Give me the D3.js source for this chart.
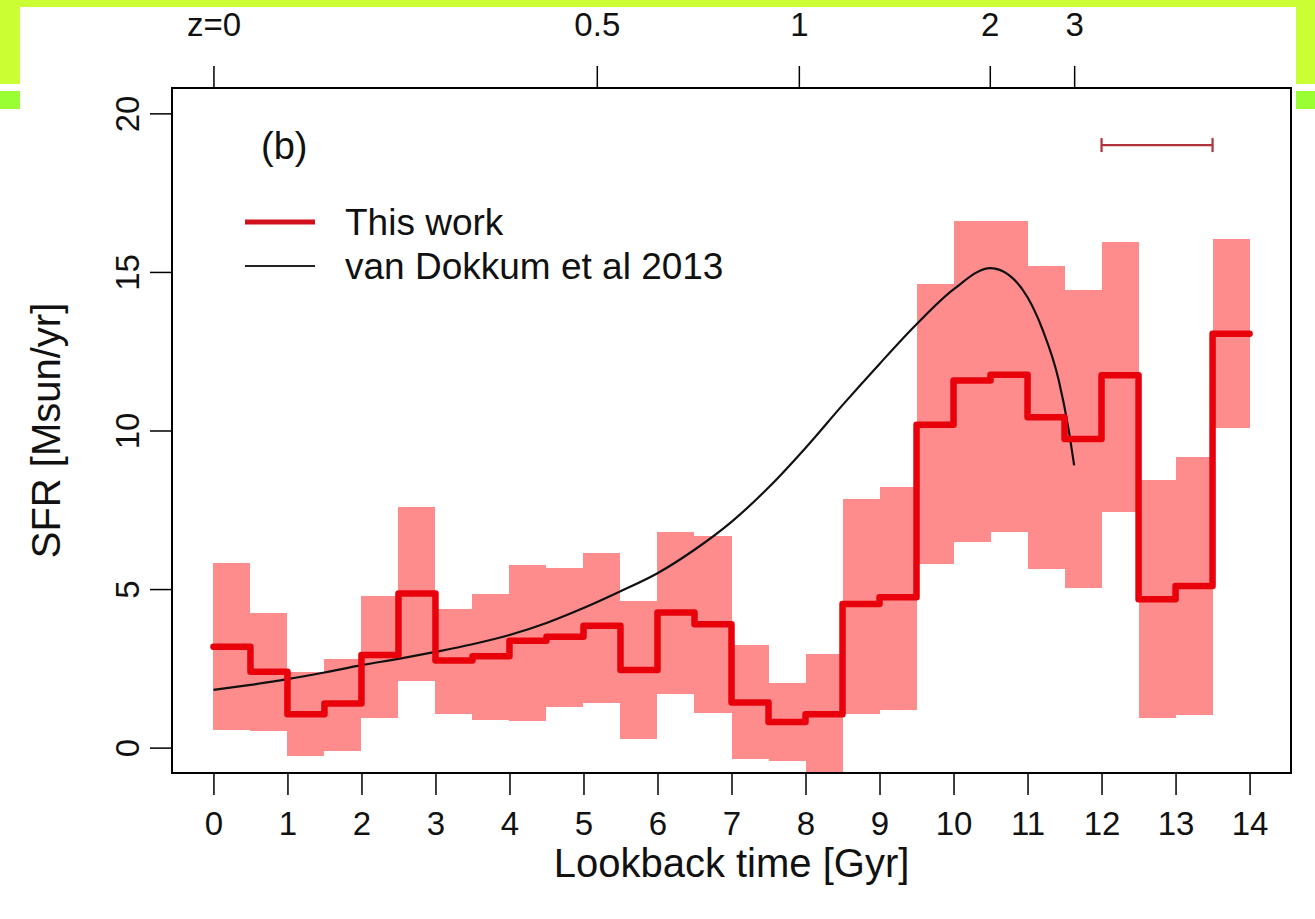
<!DOCTYPE html>
<html>
<head>
<meta charset="utf-8">
<script src="https://cdn.jsdelivr.net/npm/d3@7"></script>
<style>
  html, body { margin: 0; padding: 0; background: #fff; }
  svg { display: block; font-family: "Liberation Sans", Arial, Helvetica, sans-serif; }
</style>
</head>
<body>
<svg id="chart" width="1315" height="919"></svg>
<script>
// ---- data ----
const binEdges = [0,0.5,1,1.5,2,2.5,3,3.5,4,4.5,5,5.5,6,6.5,7,7.5,8,8.5,9,9.5,10,10.5,11,11.5,12,12.5,13,13.5,14];
const sfrThisWork = [3.18,2.39,1.05,1.39,2.92,4.86,2.75,2.88,3.37,3.5,3.84,2.45,4.26,3.89,1.42,0.81,1.05,4.53,4.74,10.18,11.58,11.76,10.42,9.73,11.74,4.68,5.1,13.05];
const sfrHigh = [5.81,4.26,2.37,2.79,4.79,7.58,4.37,4.86,5.76,5.66,6.14,4.63,6.79,6.68,3.23,2.05,2.95,7.84,8.23,14.63,16.6,16.6,15.18,14.42,15.95,8.44,9.16,16.05];
const sfrLow = [0.55,0.52,-0.27,-0.11,0.93,2.1,1.05,0.86,0.84,1.28,1.42,0.28,1.68,1.1,-0.37,-0.42,-1.3,1.05,1.18,5.78,6.47,6.79,5.63,5.02,7.42,0.95,1.02,10.08];

const vdLookback = [0,0.5,1,1.5,2,2.5,3,3.5,4,4.5,5,5.5,6,6.5,7,7.5,8,8.5,9,9.5,10,10.5,10.75,11,11.2,11.42,11.55,11.63];
const vdSfr = [1.82,1.98,2.16,2.37,2.6,2.8,3.02,3.26,3.55,3.93,4.4,4.93,5.5,6.24,7.12,8.2,9.45,10.8,12.1,13.35,14.45,15.12,14.9,14.2,13.2,11.6,10.1,8.9];

const xTicks = [0,1,2,3,4,5,6,7,8,9,10,11,12,13,14];
const yTicks = [0,5,10,15,20];
const zTickLookback = [0,5.18,7.91,10.49,11.63];
const zTickLabels = ["z=0","0.5","1","2","3"];

const errBarRange = [12, 13.5];
const errBarLevel = 19;

const legendLabels = ["This work", "van Dokkum et al 2013"];

// ---- layout ----
const svg = d3.select("#chart");
const W = 1315, H = 919;
const plot = {left: 172, right: 1291, top: 88, bottom: 773};

svg.append("rect").attr("width", W).attr("height", H).attr("fill", "#fff");

// green frame decorations
const green = "#ccff33", green2 = "#99ff33";
svg.append("rect").attr("x",0).attr("y",0).attr("width",W).attr("height",7).attr("fill",green);
svg.append("rect").attr("x",0).attr("y",0).attr("width",20).attr("height",84).attr("fill",green);
svg.append("rect").attr("x",1296).attr("y",0).attr("width",19).attr("height",84).attr("fill",green);
svg.append("rect").attr("x",0).attr("y",91).attr("width",20).attr("height",18).attr("fill",green2);
svg.append("rect").attr("x",1296).attr("y",91).attr("width",19).attr("height",18).attr("fill",green2);

const x = d3.scaleLinear().domain([-0.56, 14.56]).range([plot.left, plot.right]);
const y = d3.scaleLinear().domain([-0.8, 20.8]).range([plot.bottom, plot.top]);

svg.append("clipPath").attr("id","clip")
  .append("rect").attr("x",plot.left).attr("y",plot.top)
  .attr("width",plot.right-plot.left).attr("height",plot.bottom-plot.top);

const g = svg.append("g").attr("clip-path","url(#clip)");

// uncertainty band
g.selectAll("rect.band").data(sfrThisWork).join("rect")
  .attr("class","band")
  .attr("x",(d,i)=>x(binEdges[i]))
  .attr("width",(d,i)=>x(binEdges[i+1])-x(binEdges[i]))
  .attr("y",(d,i)=>y(sfrHigh[i]))
  .attr("height",(d,i)=>y(sfrLow[i])-y(sfrHigh[i]))
  .attr("fill","#ff8c8c")
  .attr("shape-rendering","crispEdges");

// van Dokkum curve
const vdPts = vdLookback.map((t,i)=>[t, vdSfr[i]]);
g.append("path")
  .attr("d", d3.line().x(d=>x(d[0])).y(d=>y(d[1])).curve(d3.curveMonotoneX)(vdPts))
  .attr("fill","none").attr("stroke","#111").attr("stroke-width",2.2);

// step line
const stepPts = sfrThisWork.map((v,i)=>[binEdges[i], v]);
stepPts.push([binEdges[binEdges.length-1], sfrThisWork[sfrThisWork.length-1]]);
g.append("path")
  .attr("d", d3.line().x(d=>x(d[0])).y(d=>y(d[1])).curve(d3.curveStepAfter)(stepPts))
  .attr("fill","none").attr("stroke","#e8000a").attr("stroke-width",6.5)
  .attr("stroke-linejoin","round").attr("stroke-linecap","round");

// error bar (time resolution)
const eb = svg.append("g").attr("stroke","#b0323c").attr("stroke-width",2.2);
eb.append("line").attr("x1",x(errBarRange[0])).attr("x2",x(errBarRange[1]))
  .attr("y1",y(errBarLevel)).attr("y2",y(errBarLevel));
errBarRange.forEach(v=>{
  eb.append("line").attr("x1",x(v)).attr("x2",x(v))
    .attr("y1",y(errBarLevel)-7).attr("y2",y(errBarLevel)+7);
});

// frame
svg.append("rect").attr("x",plot.left).attr("y",plot.top)
  .attr("width",plot.right-plot.left).attr("height",plot.bottom-plot.top)
  .attr("fill","none").attr("stroke","#000").attr("stroke-width",2);

const tickLen = 22;
const fontTick = 33;

// bottom axis
const xAxis = d3.axisBottom(x).tickValues(xTicks).tickSize(tickLen).tickSizeOuter(0).tickPadding(17)
  .tickFormat(d3.format("d"));
const gx = svg.append("g").attr("transform",`translate(0,${plot.bottom})`).call(xAxis);
gx.select(".domain").attr("d", `M${x(0)},0H${x(14)}`).attr("stroke","#000").attr("stroke-width",1.5);
gx.selectAll(".tick line").attr("stroke","#000").attr("stroke-width",1.5);
gx.selectAll(".tick text").attr("font-size",fontTick).attr("fill","#111").attr("font-family","Liberation Sans, Arial, sans-serif");

// top axis (redshift)
const xTop = d3.axisTop(x).tickValues(zTickLookback).tickSize(tickLen).tickSizeOuter(0).tickPadding(30)
  .tickFormat((d,i)=>zTickLabels[i]);
const gt = svg.append("g").attr("transform",`translate(0,${plot.top})`).call(xTop);
gt.select(".domain").remove();
gt.selectAll(".tick line").attr("stroke","#000").attr("stroke-width",1.5);
gt.selectAll(".tick text").attr("font-size",fontTick).attr("fill","#111").attr("font-family","Liberation Sans, Arial, sans-serif");

// left axis
const yAxis = d3.axisLeft(y).tickValues(yTicks).tickSize(tickLen).tickSizeOuter(0).tickFormat(d3.format("d"));
const gy = svg.append("g").attr("transform",`translate(${plot.left},0)`).call(yAxis);
gy.select(".domain").attr("d", `M0,${y(0)}V${y(20)}`).attr("stroke","#000").attr("stroke-width",1.5);
gy.selectAll(".tick line").attr("stroke","#000").attr("stroke-width",1.5);
gy.selectAll(".tick text")
  .attr("x",null).attr("dy",null)
  .attr("transform","translate(-33,0) rotate(-90)")
  .attr("text-anchor","middle")
  .attr("font-size",fontTick).attr("fill","#111").attr("font-family","Liberation Sans, Arial, sans-serif");

// axis titles
svg.append("text").attr("x", x(7)).attr("y", 877).attr("text-anchor","middle")
  .attr("font-size",40).attr("fill","#111").text("Lookback time [Gyr]");
svg.append("text").attr("transform",`translate(60,${y(10)}) rotate(-90)`).attr("text-anchor","middle")
  .attr("font-size",40).attr("fill","#111").text("SFR [Msun/yr]");

// panel label
svg.append("text").attr("x",261).attr("y",159).attr("font-size",38).attr("fill","#111").text("(b)");

// legend
const legend = svg.append("g");
const legY = [222, 266];
legend.append("line").attr("x1",245).attr("x2",315).attr("y1",legY[0]).attr("y2",legY[0])
  .attr("stroke","#d0101a").attr("stroke-width",5);
legend.append("line").attr("x1",245).attr("x2",315).attr("y1",legY[1]).attr("y2",legY[1])
  .attr("stroke","#222").attr("stroke-width",2.2);
legendLabels.forEach((t,i)=>{
  legend.append("text").attr("x",345).attr("y",legY[i]).attr("dy","0.36em")
    .attr("font-size",37).attr("fill","#111").text(t);
});
</script>
</body>
</html>
